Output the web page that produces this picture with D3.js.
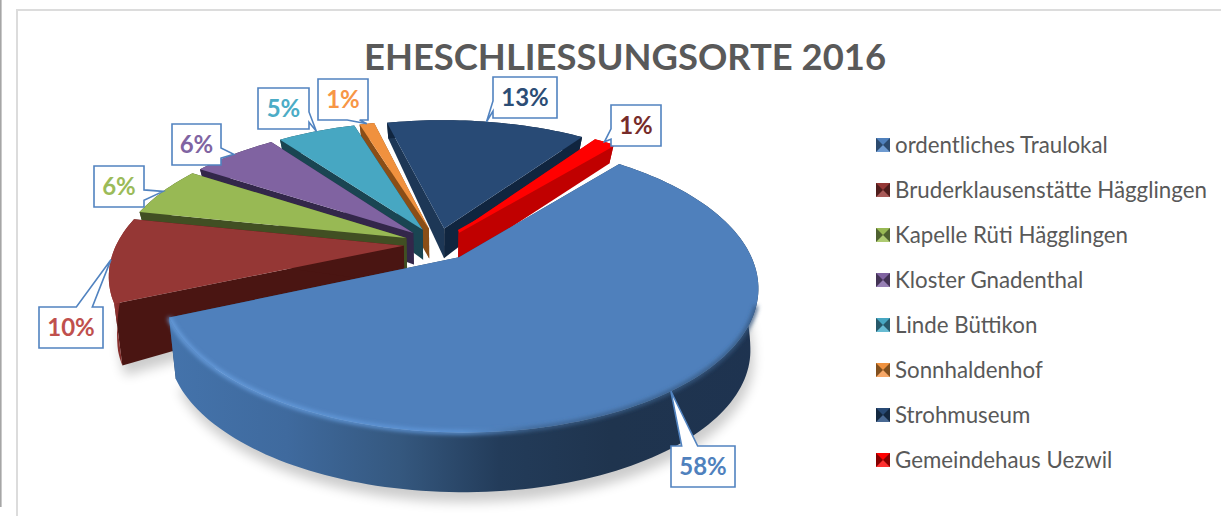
<!DOCTYPE html>
<html><head><meta charset="utf-8">
<script src="https://cdn.jsdelivr.net/npm/d3@7"></script>
<style>html,body{margin:0;padding:0;background:#fff}svg{display:block}</style></head>
<body><svg id="c" width="1221" height="516"></svg>
<script>
const categories = ["ordentliches Traulokal","Bruderklausenstätte Hägglingen","Kapelle Rüti Hägglingen","Kloster Gnadenthal","Linde Büttikon","Sonnhaldenhof","Strohmuseum","Gemeindehaus Uezwil"];
const values = [57.3,9.7,5.8,5.8,5.3,1.0,13.49,1.41];
const labels = ["58%","10%","6%","6%","5%","1%","13%","1%"];
const topColors = ["#4f80bc","#953735","#98b954","#8063a1","#47a7c2","#f0913e","#284a75","#ff0000"];
const wallColors = ["#2a4464","#4a1512","#414f23","#33274a","#1a4552","#8a4e17","#10253f","#c00000"];
const endWallColors = ["#2a4464","#4a1512","#414f23","#33274a","#1a4552","#8a4e17","#1d3756","#c00000"];
const labelColors = ["#4f81bd","#c0504d","#9bbb59","#8064a2","#4bacc6","#f79646","#2c4d75","#772c2a"];
const keyDark = ["#2c4a6e","#4f1d1c","#4e6130","#433355","#27596a","#82501f","#142840","#860000"];
const keyLight = ["#6f9bd1","#a95a58","#aecb72","#9780b5","#68bcd3","#f8a868","#4a6a94","#ff3030"];
// callout box offset from the pie-rim anchor, and box size
const boxOffsets = [[0,55],[-72,47],[-69,-25],[-62,-30],[-58,-43],[-49,-45],[6,-45],[7,-37]];
const boxW = [64,64,50,49,51,50,64,50], boxH = 41;

const svg = d3.select("#c");
const cx=438, cy=244, rx=287, ry=135, persp=5.1, explode=0.12;
const depth = d3.scaleLinear().domain([-1,-0.1,0.3,1]).range([17,30,62,60]);
const sx = d3.scaleLinear().domain([-1,1]).range([-rx,rx]);
const sy = d3.scaleLinear().domain([-1,1]).range([-ry,ry]);
function proj(u,v,bottom){
  const s=persp/(persp-v);
  let X=sx(u)*s, Y=sy(v)*s;
  if(bottom){X*=0.975;Y+=depth(v);}
  return [cx+X,cy+Y];
}
const rad=Math.PI/180;
const pie=d3.pie().sort(null).startAngle(40*rad).endAngle(400*rad);
const arcs=pie(values);
const line=d3.line();
function slicePts(a,bottom){
  const m=(a.startAngle+a.endAngle)/2, ou=explode*Math.sin(m), ov=-explode*Math.cos(m);
  const n=Math.max(2,Math.ceil((a.endAngle-a.startAngle)/(1.5*rad)));
  const arc=d3.range(n+1).map(i=>{const t=a.startAngle+(a.endAngle-a.startAngle)*i/n;
    return proj(ou+Math.sin(t),ov-Math.cos(t),bottom);});
  return {apex:proj(ou,ov,bottom),arc};
}
const defs=svg.append("defs");
defs.append("filter").attr("id","blur").attr("x","-20%").attr("y","-20%").attr("width","140%").attr("height","140%")
  .append("feGaussianBlur").attr("stdDeviation",6);
defs.append("filter").attr("id","soft").attr("x","-10%").attr("y","-10%").attr("width","120%").attr("height","120%")
  .append("feGaussianBlur").attr("stdDeviation",2);
function grad(id,stops){const g=defs.append("linearGradient").attr("id",id);
  stops.forEach(s=>g.append("stop").attr("offset",s[0]).attr("stop-color",s[1]));return g;}
grad("wb",[[0,"#4473ab"],[0.2,"#3f6a9e"],[0.39,"#35587f"],[0.56,"#233c5a"],[0.75,"#1f344e"],[1,"#1e3350"]]);
grad("wr",[[0,"#a63d3a"],[0.25,"#8a302e"],[1,"#5a1a18"]]);
grad("rim",[[0,"#6aa0e0"],[0.5,"#5f97da"],[0.62,"#3d638f"],[1,"#35577f"]]);
const outerFill=i=>i===0?"url(#wb)":i===1?"url(#wr)":wallColors[i];

// frame
svg.append("rect").attr("x",0).attr("y",0).attr("width",1.6).attr("height",507).attr("fill","#a6a6a6");
svg.append("path").attr("d","M17 517V10H1222").attr("fill","none").attr("stroke","#dcdcdc").attr("stroke-width",2);

// ground shadow
[0,1].forEach(i=>{const b=slicePts(arcs[i],true);
  svg.append("path").attr("d",line(b.arc)+"L"+b.apex.join(",")+"Z").attr("fill","#000").attr("opacity",0.2)
   .attr("transform","translate(3,10)").attr("filter","url(#blur)");});

// painter's order: back to front
const order=d3.range(values.length).sort((p,q)=>{
  const v=a=>-Math.cos((a.startAngle+a.endAngle)/2);return v(arcs[p])-v(arcs[q]);});
order.forEach(i=>{
  const T=slicePts(arcs[i],false),B=slicePts(arcs[i],true);
  const n=T.arc.length-1,g=svg.append("g");
  g.append("path").attr("d",line([T.apex,T.arc[0],B.arc[0],B.apex])+"Z").attr("fill",endWallColors[i]);
  g.append("path").attr("d",line([T.apex,T.arc[n],B.arc[n],B.apex])+"Z").attr("fill",wallColors[i]);
  g.append("path").attr("d",line(T.arc.concat(B.arc.slice().reverse()))+"Z").attr("fill",outerFill(i));
  g.append("path").attr("d",line([T.apex].concat(T.arc))+"Z").attr("fill",topColors[i]);
  if(i===0){ // soft bevel along the front of the rim
    const front=T.arc.filter(p=>p[1]>T.apex[1]+45);
    g.append("path").attr("d",line(front)).attr("fill","none").attr("stroke","url(#rim)").attr("stroke-width",4).attr("filter","url(#soft)");
  }
  if(i===7) g.append("path").attr("d",line([T.apex,T.arc[n]])).attr("stroke","#ff0000").attr("stroke-width",3);
});

// callouts (wedge-rectangle geometry)
const font="Lato, Carlito, sans-serif";
arcs.forEach((a,i)=>{
  const m=(a.startAngle+a.endAngle)/2;
  const tip=proj(explode*Math.sin(m)+Math.sin(m),-explode*Math.cos(m)-Math.cos(m),false);
  const w=boxW[i],h=boxH,x0=Math.round(tip[0]+boxOffsets[i][0]),y0=Math.round(tip[1]+boxOffsets[i][1]);
  const x1=x0+w,y1=y0+h,mx=x0+w/2,my=y0+h/2,dx=(tip[0]-mx)/w,dy=(tip[1]-my)/h;
  const fx=f=>x0+w*f,fy=f=>y0+h*f;
  const A=dx<0?[1/6,5/12]:[7/12,5/6],Bf=dy<0?[1/6,5/12]:[7/12,5/6];
  let pts;
  if(Math.abs(dx)>Math.abs(dy)){
    if(dx<0) pts=[[x0,y0],[x1,y0],[x1,y1],[x0,y1],[x0,fy(Bf[1])],tip,[x0,fy(Bf[0])]];
    else pts=[[x0,y0],[x1,y0],[x1,fy(Bf[0])],tip,[x1,fy(Bf[1])],[x1,y1],[x0,y1]];
  } else {
    if(dy<0) pts=[[x0,y0],[fx(A[0]),y0],tip,[fx(A[1]),y0],[x1,y0],[x1,y1],[x0,y1]];
    else pts=[[x0,y0],[x1,y0],[x1,y1],[fx(A[1]),y1],tip,[fx(A[0]),y1],[x0,y1]];
  }
  svg.append("path").attr("d",line(pts)+"Z").attr("fill","#fff").attr("stroke","#5183c0").attr("stroke-width",1.6);
  svg.append("text").attr("x",mx).attr("y",my+8.5).attr("text-anchor","middle").attr("fill",labelColors[i])
    .attr("font-family",font).attr("font-weight",700).attr("font-size",24).text(labels[i]);
});

// title
svg.append("text").attr("x",625).attr("y",70).attr("text-anchor","middle").attr("fill","#595959")
  .attr("font-family",font).attr("font-weight",700).attr("font-size",36.4).text("EHESCHLIESSUNGSORTE 2016");

// legend
const ly=d3.scalePoint().domain(categories).range([145,460]);
categories.forEach((c,i)=>{
  const y=ly(c),x0=876,x1=890,y0=y-7,y1=y+7,mx=883,g=svg.append("g");
  g.append("rect").attr("x",x0).attr("y",y0).attr("width",14).attr("height",14).attr("fill",keyDark[i]);
  g.append("path").attr("d",line([[x0,y0],[x1,y0],[mx,y]])+"Z").attr("fill",topColors[i]);
  g.append("path").attr("d",line([[x0,y1],[x1,y1],[mx,y]])+"Z").attr("fill",keyLight[i]);
  svg.append("text").attr("x",895).attr("y",y+7.5).attr("fill","#595959").attr("font-family",font)
    .attr("font-size",22.3).text(c);
});
</script></body></html>
